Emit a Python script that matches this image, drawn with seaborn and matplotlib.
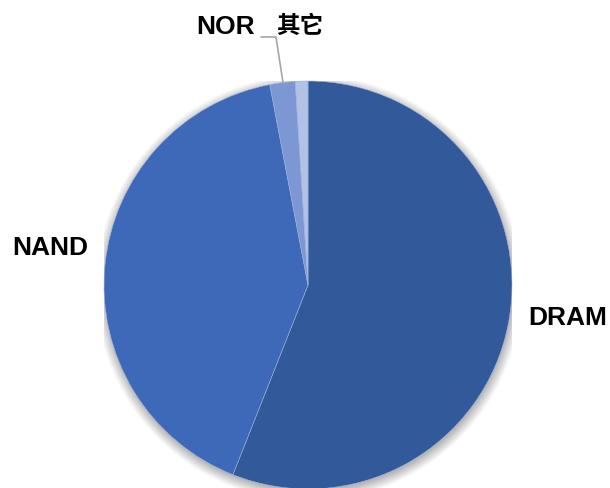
import matplotlib
matplotlib.use("Agg")
import matplotlib.pyplot as plt
import seaborn as sns
from matplotlib.patches import Circle

sns.set_theme(style="white")
plt.rcParams['font.family'] = ['Liberation Sans', 'Noto Sans CJK SC', 'DejaVu Sans']

# Memory market share by product type (%)
categories = ["DRAM", "NAND", "NOR", "其它"]
shares = [56, 41, 2, 1]
colors = ["#325A9B", "#3E69B8", "#7D97D5", "#B2C2E7"]

fig = plt.figure(figsize=(6.10, 4.89), dpi=100)
ax = fig.add_axes([104 / 610, -1 / 489, 408 / 610, 408 / 489])

# soft glow under the pie
for i in range(24):
    ax.add_patch(Circle((0.004, -0.014), 0.995 + 0.0022 * i, color="black",
                        alpha=0.010, lw=0, zorder=0))

wedges, _ = ax.pie(shares, colors=colors, startangle=90, counterclock=False,
                   radius=1.0, wedgeprops=dict(edgecolor="#9fb3dd", linewidth=0.4))
for w in wedges:
    w.set_zorder(2)

ax.set_xlim(-1, 1)
ax.set_ylim(-1, 1)
ax.set_aspect("equal")
ax.axis("off")

label_style = dict(fontsize=19, fontweight="bold", color="black",
                   ha="center", va="center", clip_on=False)
ax.text(1.275, -0.157, categories[0], **label_style)
ax.text(-1.265, 0.186, categories[1], **label_style)
ax.text(-0.402, 1.27, categories[2], **label_style)
ax.text(-0.039, 1.275, categories[3], fontsize=17, fontweight="bold",
        color="black", ha="center", va="center", clip_on=False,
        family=['Noto Sans CJK SC', 'DejaVu Sans'])

# leader line for the NOR slice
ax.plot([-0.230, -0.157, -0.123], [1.216, 1.216, 0.995], color="#a6a6a6",
        lw=1.2, clip_on=False, zorder=3)

fig.savefig("out.png", dpi=100)
